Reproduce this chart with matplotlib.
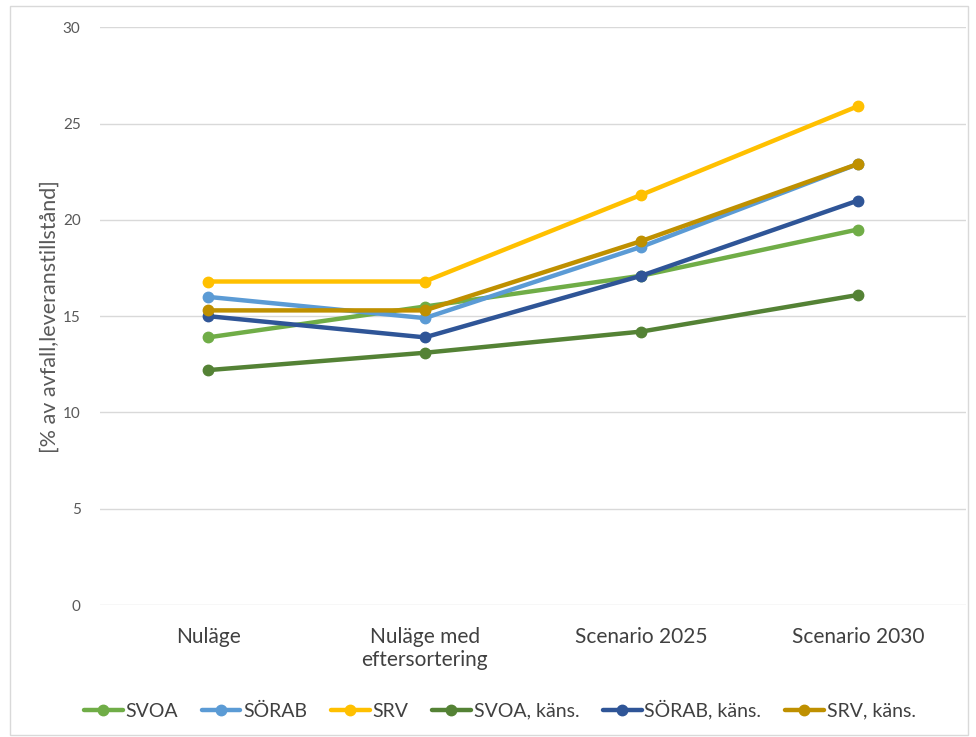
import matplotlib
matplotlib.use("Agg")
from matplotlib import pyplot as plt
from matplotlib.patches import Rectangle

categories = ["Nuläge", "Nuläge med\neftersortering", "Scenario 2025", "Scenario 2030"]

svoa = [13.9, 15.5, 17.1, 19.5]
sorab = [16.0, 14.9, 18.6, 22.9]
srv = [16.8, 16.8, 21.3, 25.9]
svoa_kans = [12.2, 13.1, 14.2, 16.1]
sorab_kans = [15.0, 13.9, 17.1, 21.0]
srv_kans = [15.3, 15.3, 18.9, 22.9]

series = [
    ("SVOA", svoa, "#70AD47"),
    ("SÖRAB", sorab, "#5B9BD5"),
    ("SRV", srv, "#FFC000"),
    ("SVOA, käns.", svoa_kans, "#548235"),
    ("SÖRAB, käns.", sorab_kans, "#2F5597"),
    ("SRV, käns.", srv_kans, "#BF9000"),
]

plt.rcParams["font.family"] = ["Lato", "DejaVu Sans"]

fig = plt.figure(figsize=(9.76, 7.37), dpi=100)
ax = fig.add_axes([0.1025, 0.179, 0.8873, 0.784])

x = list(range(len(categories)))
for name, values, color in series:
    ax.plot(x, values, color=color, linewidth=3.2, marker="o", markersize=7.5,
            label=name, solid_capstyle="round")

ax.set_xlim(-0.5, len(categories) - 0.5)
ax.set_ylim(0, 30)
ax.set_yticks(range(0, 31, 5))
ax.set_xticks(x)
ax.set_xticklabels(categories, fontsize=15, color="#404040", linespacing=1.15)
ax.tick_params(axis="y", labelsize=11, labelcolor="#595959", length=0, pad=14)
ax.tick_params(axis="x", length=0, pad=16)
ax.grid(axis="y", color="#D9D9D9", linewidth=1)
ax.set_axisbelow(True)
for s in ax.spines.values():
    s.set_visible(False)

ax.set_ylabel("[% av avfall,leveranstillstånd]", fontsize=15.5, color="#595959", labelpad=2)

fig.legend(loc="center", bbox_to_anchor=(0.512, 0.037), ncol=6, frameon=False,
           fontsize=14, handlelength=2.0, handletextpad=0.15, columnspacing=1.2,
           labelcolor="#404040")

fig.patches.append(Rectangle((0.010, 0.003), 0.982, 0.989, transform=fig.transFigure,
                             fill=False, edgecolor="#D9D9D9", linewidth=1))

fig.savefig("out.png", dpi=100)
